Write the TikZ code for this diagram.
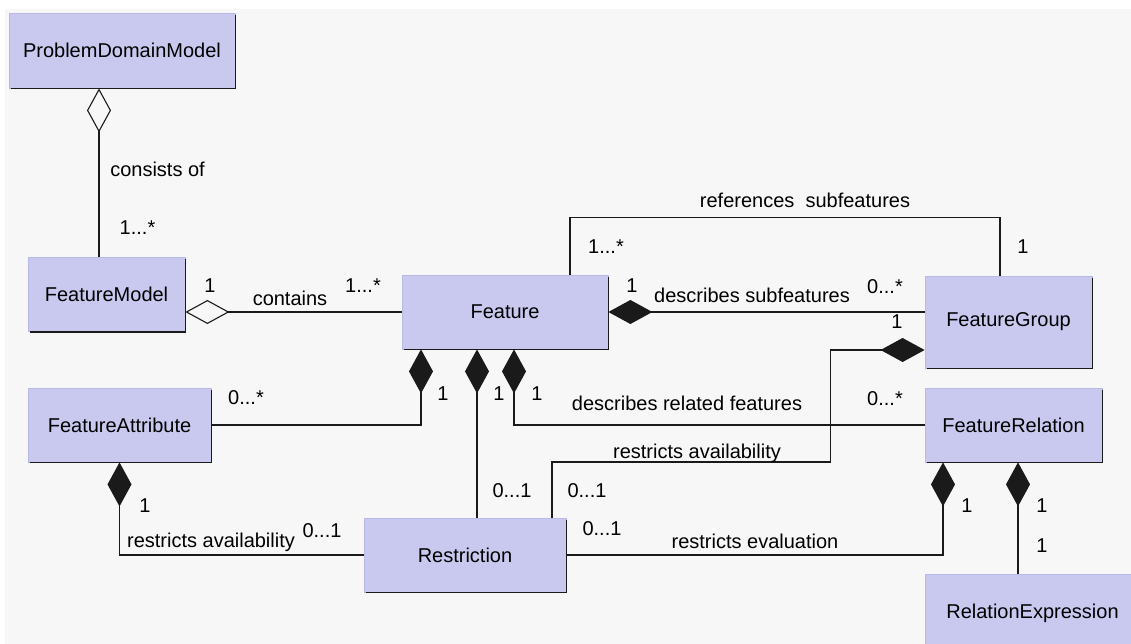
\documentclass[tikz,border=0pt]{standalone}
\usepackage{fontspec}
\setmainfont{Liberation Sans}
\usetikzlibrary{arrows.meta,calc}
\definecolor{Ink}{HTML}{1A1A1A}
\definecolor{Lilac}{HTML}{C9C9F0}
\definecolor{LilacEdge}{HTML}{B9B9E6}
\definecolor{Paper}{HTML}{F7F7F7}
\tikzset{
  cls/.style={rectangle,fill=Lilac,draw=LilacEdge,line width=.8pt,minimum height=74pt,inner sep=0pt,font=\fontsize{20}{23}\selectfont},
  rim/.style={draw=Ink,line width=1.5pt},
  assoc/.style={draw=Ink,line width=1.1pt},
  agg/.style={assoc,{Diamond[open,length=44pt,width=24pt]}-},
  comp/.style={assoc,{Diamond[length=44pt,width=24pt]}-},
  lab/.style={font=\fontsize{20}{23}\selectfont,inner sep=0pt,text height=14pt,text depth=4pt}
}
\begin{document}
\begin{tikzpicture}[x=1pt,y=-1pt]
    \clip (0,0) rectangle (1131,644);
    \fill[white] (0,0) rectangle (1131,644);
    \fill[Paper] (5,9) rectangle (1131,644);
    % classes
    \node[cls,minimum width=226pt,minimum height=75pt] (pdm) at (122,50.5) {ProblemDomainModel};
    \node[cls,minimum width=157pt] (fm) at (106.5,294.5) {FeatureModel};
    \node[cls,minimum width=206pt] (ft) at (505,312) {Feature};
    \node[cls,minimum width=167pt,minimum height=92pt] (fg) at (1008.5,322) {FeatureGroup};
    \node[cls,minimum width=183pt] (fa) at (119.5,425) {FeatureAttribute};
    \node[cls,minimum width=177pt] (fr) at (1013.5,425) {FeatureRelation};
    \node[cls,minimum width=202pt] (rs) at (465,555) {Restriction};
    \node[cls,minimum width=215pt,minimum height=78pt] (re) at (1032.5,613) {RelationExpression};
    \foreach \n in {pdm,fm,ft,fg,fa,fr,rs,re}
      \draw[rim] ([yshift=-2pt]\n.north east) -- (\n.south east) -- ([xshift=2pt]\n.south west);
    % associations
    \draw[agg] ([xshift=-23pt]pdm.south) -- ([xshift=-23pt]pdm.south |- fm.north);
    \draw[agg] (fm.east |- ft.west) -- (ft.west);
    \draw[assoc] ([xshift=65pt]ft.north) -- ++(0,-57) -| ([xshift=-8.5pt]fg.north);
    \draw[comp] (ft.east) -- (ft.east -| fg.west);
    \draw[comp] ([yshift=-28pt]fg.west) -- ++(-94,0) -- ++(0,112) -| ([xshift=87pt]rs.north);
    \draw[comp] ([xshift=-84pt]ft.south) |- (fa.east);
    \draw[comp] ([xshift=-28pt]ft.south) -- ([xshift=-28pt]ft.south |- rs.north);
    \draw[comp] ([xshift=9pt]ft.south) |- (fr.west);
    \draw[comp] (fa.south) |- (rs.west);
    \draw[comp] ([xshift=-70.5pt]fr.south) |- (rs.east);
    \draw[comp] ([xshift=4.5pt]fr.south) -- ([xshift=4.5pt]fr.south |- re.north);
    % roles and multiplicities
    \node[lab] (consists) at (157.5,172) {consists of};
    \node[lab] (mfm) at (137.5,230) {1...*};
    \node[lab] (mcont1) at (210,287) {1};
    \node[lab] (contains) at (290,300) {contains};
    \node[lab] (mcont2) at (363,287) {1...*};
    \node[lab] (refs) at (805,203) {references\ \ subfeatures};
    \node[lab] (mref1) at (606,248) {1...*};
    \node[lab] (mref2) at (1023,248) {1};
    \node[lab] (msub1) at (632,287) {1};
    \node[lab] (subs) at (752,297) {describes subfeatures};
    \node[lab] (msub2) at (885,288) {0...*};
    \node[lab] (mfg) at (897,323) {1};
    \node[lab] (availup) at (697,453) {restricts availability};
    \node[lab] (mrs1) at (587,492) {0...1};
    \node[lab] (mrs2) at (512,492) {0...1};
    \node[lab] (mft1) at (443,395) {1};
    \node[lab] (mft2) at (499,395) {1};
    \node[lab] (mft3) at (537,395) {1};
    \node[lab] (mfa) at (246,399) {0...*};
    \node[lab] (related) at (687,405) {describes related features};
    \node[lab] (mfr) at (885,400) {0...*};
    \node[lab] (mfa2) at (145,507) {1};
    \node[lab] (availlow) at (211,542) {restricts availability};
    \node[lab] (mrs3) at (322,532) {0...1};
    \node[lab] (mrs4) at (602,530) {0...1};
    \node[lab] (evals) at (755,543) {restricts evaluation};
    \node[lab] (mfr2) at (967,507) {1};
    \node[lab] (mre1) at (1042,507) {1};
    \node[lab] (mre2) at (1042,547) {1};
\end{tikzpicture}
\end{document}
